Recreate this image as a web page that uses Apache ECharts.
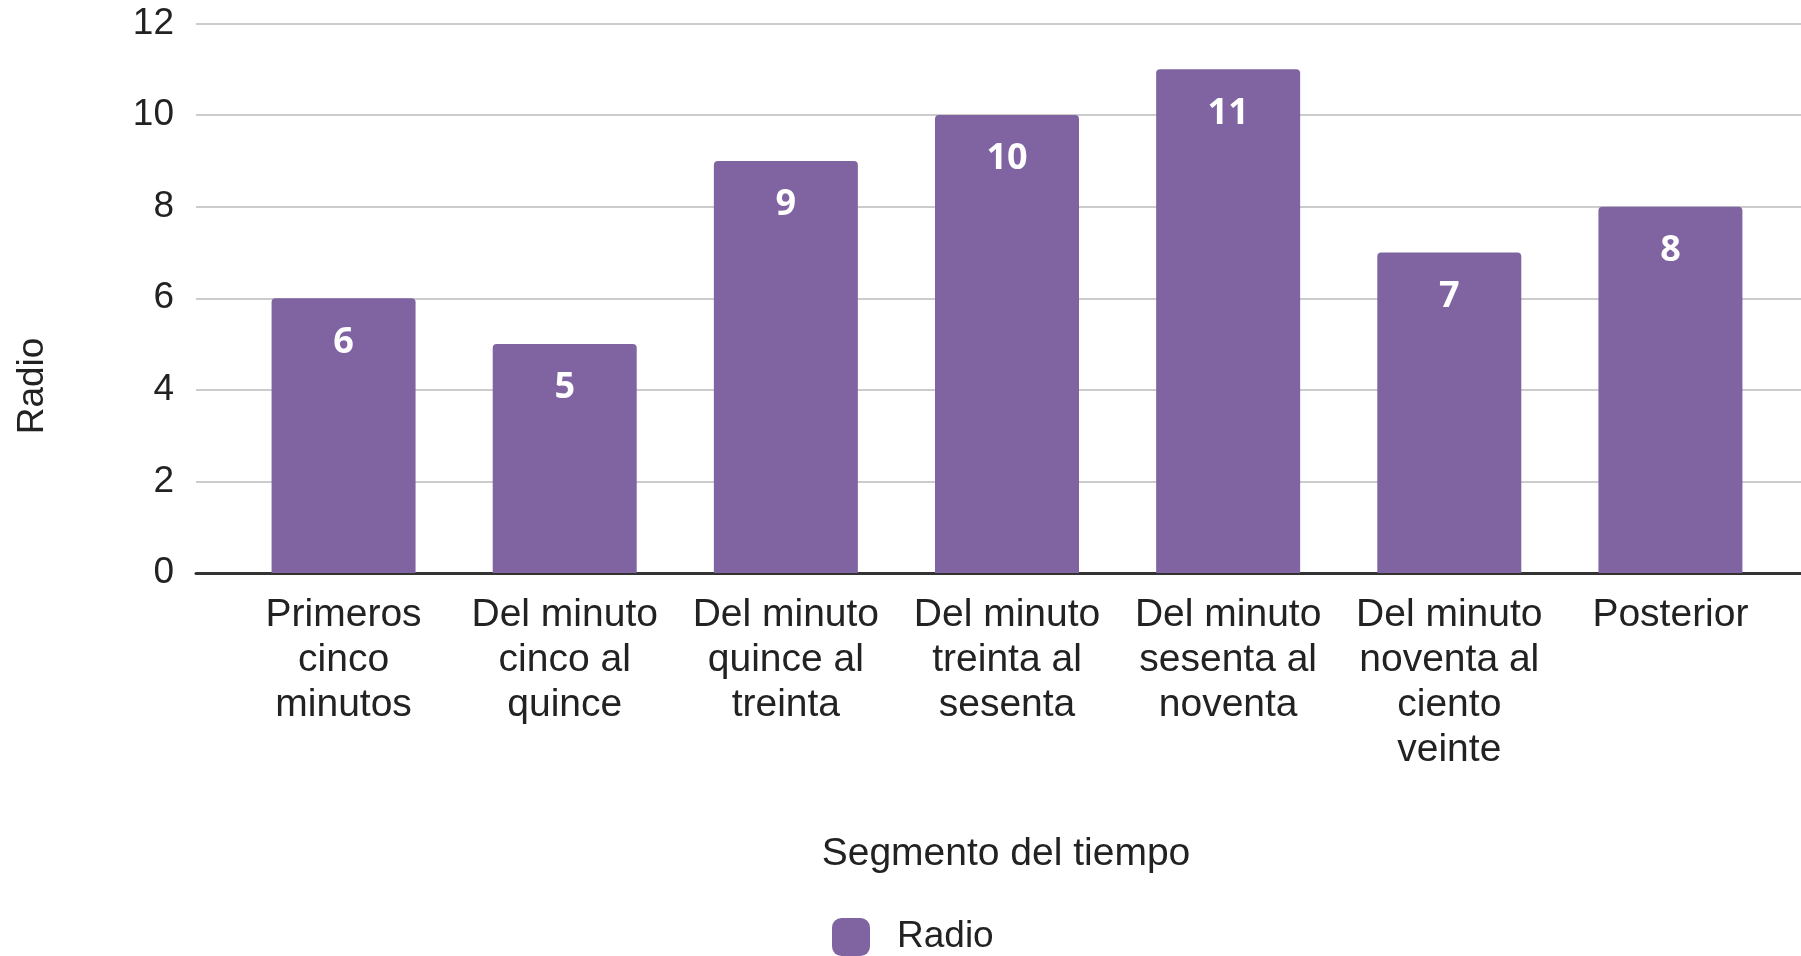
<!DOCTYPE html>
<html>
<head>
<meta charset="utf-8">
<script src="https://cdn.jsdelivr.net/npm/echarts@6/dist/echarts.min.js"></script>
<style>html,body{margin:0;padding:0;background:#fff}#c{width:1801px;height:956px}</style>
</head>
<body>
<div id="c"></div>
<script>
const categories = [
  'Primeros\ncinco\nminutos',
  'Del minuto\ncinco al\nquince',
  'Del minuto\nquince al\ntreinta',
  'Del minuto\ntreinta al\nsesenta',
  'Del minuto\nsesenta al\nnoventa',
  'Del minuto\nnoventa al\nciento\nveinte',
  'Posterior'
];
const radioValues = [6, 5, 9, 10, 11, 7, 8];
const seriesName = 'Radio';
const xAxisTitle = 'Segmento del tiempo';
const yAxisTitle = 'Radio';
const yMin = 0, yMax = 12, yInterval = 2;

const chart = echarts.init(document.getElementById('c'), null, {renderer: 'canvas'});
const sans = '"Liberation Sans", Arial, sans-serif';
chart.setOption({
  animation: false,
  backgroundColor: '#ffffff',
  grid: [
    {left: 196, right: 0, top: 23.5, bottom: 383},
    {left: 233, right: 20, top: 23.5, bottom: 383}
  ],
  xAxis: [
    {gridIndex: 0, type: 'value', min: 0, max: 1, show: true,
      axisLine: {show: true, onZero: false, lineStyle: {color: '#333333', width: 3}},
      axisTick: {show: false}, axisLabel: {show: false}, splitLine: {show: false}},
    {gridIndex: 1, type: 'category', data: categories,
      axisLine: {show: false}, axisTick: {show: false},
      axisLabel: {interval: 0, margin: 20, fontSize: 39, lineHeight: 45, color: '#222222', fontFamily: sans}}
  ],
  yAxis: [
    {gridIndex: 0, type: 'value', min: yMin, max: yMax, interval: yInterval,
      axisLine: {show: false}, axisTick: {show: false},
      axisLabel: {fontSize: 37, color: '#222222', margin: 22, fontFamily: sans},
      splitLine: {lineStyle: {color: '#cccccc', width: 2}}},
    {gridIndex: 1, type: 'value', min: yMin, max: yMax, interval: yInterval, show: false,
      splitLine: {show: false}}
  ],
  legend: {
    data: [seriesName], left: 832, top: 918, padding: 0, itemWidth: 38, itemHeight: 38, icon: 'roundRect',
    itemGap: 10,
    textStyle: {fontSize: 37, color: '#222222', fontFamily: sans, padding: [8, 0, 0, 22]}
  },
  graphic: [
    {type: 'text', x: 1006, y: 854, style: {text: xAxisTitle, fontSize: 39, fontFamily: sans, fill: '#222222', textAlign: 'center', textVerticalAlign: 'middle'}},
    {type: 'text', x: 33, y: 386, rotation: Math.PI / 2, style: {text: yAxisTitle, fontSize: 37, fontFamily: sans, fill: '#222222', textAlign: 'center', textVerticalAlign: 'middle'}}
  ],
  series: [{
    name: seriesName, type: 'bar', xAxisIndex: 1, yAxisIndex: 1,
    data: radioValues, barWidth: 144,
    itemStyle: {color: '#8064a2', borderRadius: [4, 4, 0, 0]},
    label: {show: true, position: 'insideTop', distance: 26, color: '#ffffff', fontSize: 36, fontWeight: 'bold', fontFamily: '"Open Sans", "Noto Sans", sans-serif'}
  }]
});
</script>
</body>
</html>
